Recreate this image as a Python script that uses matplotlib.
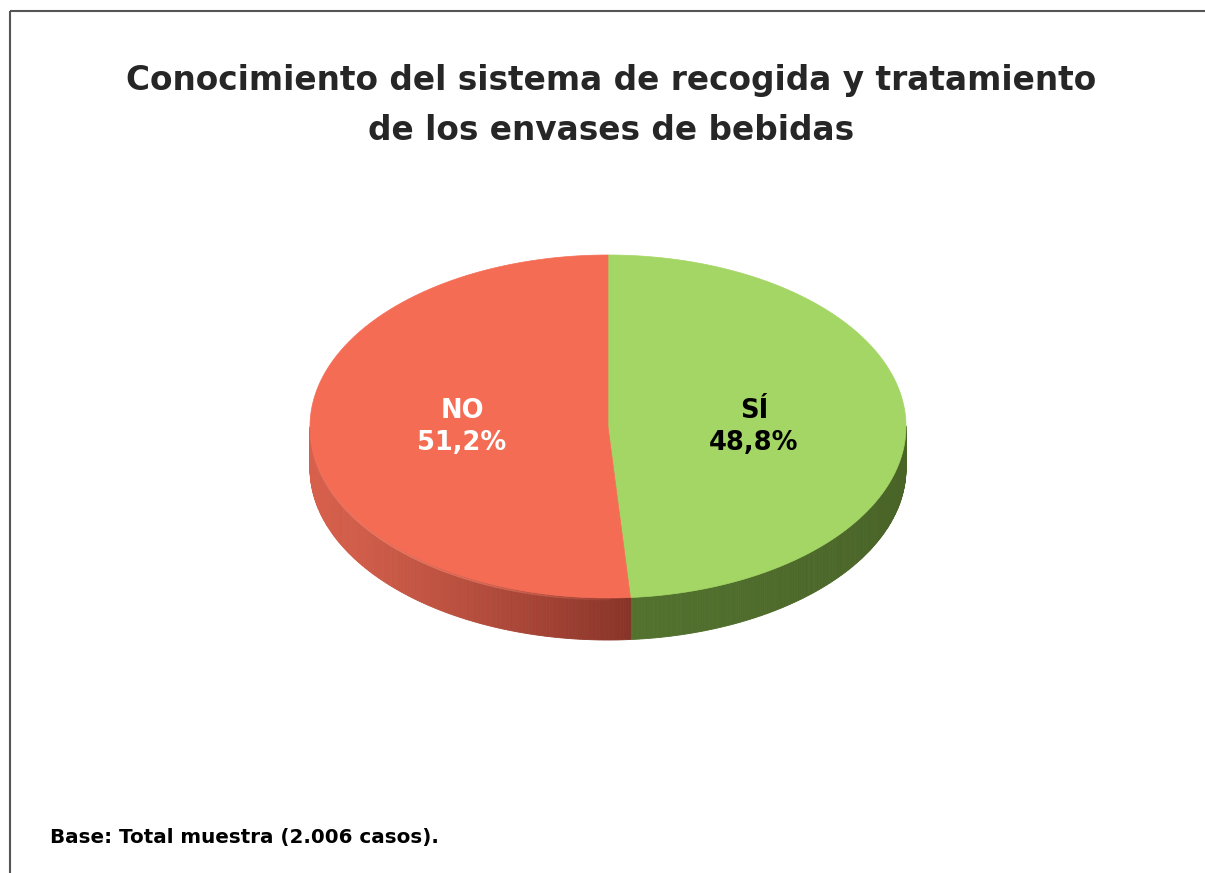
import numpy as np
import matplotlib
matplotlib.use("Agg")
import matplotlib.pyplot as plt
from matplotlib.patches import Polygon
from matplotlib.collections import LineCollection

# ---- data ----
categories = ["SÍ", "NO"]
values = [48.8, 51.2]
value_labels = ["48,8%", "51,2%"]
top_colors = ["#A3D664", "#F56C55"]
label_colors = ["black", "white"]
title_lines = ["Conocimiento del sistema de recogida y tratamiento",
               "de los envases de bebidas"]
footnote = "Base: Total muestra (2.006 casos)."

W, H = 1205, 873
fig = plt.figure(figsize=(W / 100, H / 100), dpi=100)
ax = fig.add_axes([0, 0, 1, 1])
ax.set_xlim(0, W)
ax.set_ylim(H, 0)
ax.axis("off")

# frame (top and left visible)
ax.plot([9.5, W], [10.5, 10.5], color="#555555", lw=1.5, solid_capstyle="butt")
ax.plot([9.5, 9.5], [10.5, H], color="#555555", lw=1.5, solid_capstyle="butt")

cx, cy, rx, ry, depth = 608, 426.5, 298, 171.5, 42

def pt(theta_deg, r=1.0, dy=0.0):
    t = np.radians(theta_deg)
    return cx + r * rx * np.cos(t), cy - r * ry * np.sin(t) + dy

# slice angles: start at 90, clockwise
total = sum(values)
starts, ends = [], []
a = 90.0
for v in values:
    starts.append(a)
    a -= 360.0 * v / total
    ends.append(a)

def lerp(c1, c2, f):
    return tuple((np.array(c1) + (np.array(c2) - np.array(c1)) * f) / 255.0)

red_l, red_r = (214, 96, 76), (136, 51, 40)
grn_l, grn_r = (82, 114, 46), (74, 100, 40)
split_x = pt(ends[0])[0]

# side walls (front half only)
for i, (s, e) in enumerate(zip(starts, ends)):
    th = np.linspace(s, e, 400)
    for k in range(len(th) - 1):
        t0, t1 = th[k], th[k + 1]
        tm = ((0.5 * (t0 + t1) + 180) % 360) - 180
        if not (-180 <= tm <= 0):
            continue
        x0, y0 = pt(t0)
        x1, y1 = pt(t1)
        xm = 0.5 * (x0 + x1)
        if i == 1:
            f = np.clip((xm - (cx - rx)) / (split_x - (cx - rx)), 0, 1)
            col = lerp(red_l, red_r, f ** 1.3)
        else:
            f = np.clip((xm - split_x) / (cx + rx - split_x), 0, 1)
            col = lerp(grn_l, grn_r, f)
        ax.add_patch(Polygon([(x0, y0), (x1, y1), (x1, y1 + depth), (x0, y0 + depth)],
                             closed=True, facecolor=col, edgecolor=col, lw=0.6))

# tops
for i, (s, e) in enumerate(zip(starts, ends)):
    th = np.linspace(s, e, 300)
    xs, ys = pt(th)
    verts = [(cx, cy)] + list(zip(xs, ys))
    ax.add_patch(Polygon(verts, closed=True, facecolor=top_colors[i],
                         edgecolor=top_colors[i], lw=0.5))

# subtle fading rim highlight on the red slice front edge
rim = np.linspace(-178, ends[0] - 4, 200)
xs, ys = pt(rim)
pts = np.column_stack([xs, ys + 1.5])
segs = np.stack([pts[:-1], pts[1:]], axis=1)
alph = 0.6 * np.sin(np.linspace(0.15, np.pi - 0.15, len(segs)))
cols = [(1.0, 0.55, 0.46, a_) for a_ in alph]
ax.add_collection(LineCollection(segs, colors=cols, linewidths=1.2))

# labels
for i, (s, e) in enumerate(zip(starts, ends)):
    mid = 0.5 * (s + e)
    lx, _ = pt(mid, r=0.49)
    ax.text(lx, cy - 8, categories[i], ha="center", va="baseline",
            color=label_colors[i], fontsize=18.5, fontweight="bold", family="DejaVu Sans")
    ax.text(lx, cy + 24, value_labels[i], ha="center", va="baseline",
            color=label_colors[i], fontsize=18.5, fontweight="bold", family="DejaVu Sans")

for yb, line in zip([90, 140], title_lines):
    ax.text(611, yb, line, ha="center", va="baseline", fontsize=23.6, fontweight="bold",
            color="#262626", family="DejaVu Sans")

ax.text(50, 843, footnote, ha="left", va="baseline", fontsize=14.3, fontweight="bold",
        color="black", family="DejaVu Sans")

fig.savefig("out.png", dpi=100, facecolor="white")
